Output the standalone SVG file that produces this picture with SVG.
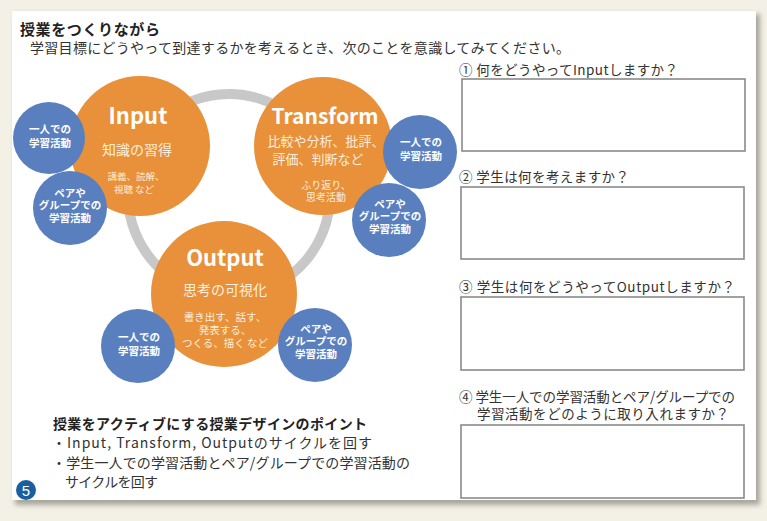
<svg xmlns="http://www.w3.org/2000/svg" width="767" height="521" viewBox="0 0 767 521">
<defs>
<filter id="sh" x="-5%" y="-5%" width="110%" height="110%"><feGaussianBlur stdDeviation="2.5"/></filter>
</defs>
<style>
.jp{font-family:"Noto Sans CJK JP","Noto Sans",sans-serif}
.t{fill:#333}
.b{font-weight:bold}
.orange{fill:#e8913a}
.blue{fill:#5a7fbf}
.w{fill:#ffffff}
.wt{fill:#fbeede}
.s{font-size:10.5px;font-weight:bold;fill:#ffffff;text-anchor:middle}
.box{fill:#ffffff;stroke:#8a8a8a;stroke-width:1.6}
.mid{text-anchor:middle}
</style>
<rect x="0" y="0" width="767" height="521" fill="#f3f0e6"/>
<rect x="15" y="14" width="745" height="491" fill="#a9a69c" filter="url(#sh)"/>
<rect x="12" y="11" width="744" height="489" fill="#ffffff"/>

<g id="header" class="jp">
<text x="20" y="35" font-size="15" class="b" fill="#222" textLength="140">授業をつくりながら</text>
<text x="30" y="53" font-size="14" class="t" textLength="540">学習目標にどうやって到達するかを考えるとき、次のことを意識してみてください。</text>
</g>

<g id="connectors">
<circle cx="229" cy="195" r="101" fill="none" stroke="#c8c8c8" stroke-width="10"/>
</g>

<g id="input" class="jp">
<circle cx="140" cy="146" r="70" class="orange"/>
<text x="138" y="124" font-size="22" class="b w mid">Input</text>
<text x="137" y="155" font-size="14" class="wt mid">知識の習得</text>
<text x="136" y="180" font-size="9.5" class="wt mid">講義、読解、</text>
<text x="134" y="193" font-size="9.5" class="wt mid">視聴 など</text>
</g>
<g id="input-solo" class="jp">
<circle cx="49" cy="138" r="36" class="blue"/>
<text x="50" y="133" class="s">一人での</text>
<text x="50" y="147" class="s">学習活動</text>
</g>
<g id="input-pair" class="jp">
<circle cx="70" cy="208" r="37" class="blue"/>
<text x="70" y="196.5" class="s">ペアや</text>
<text x="70" y="209" class="s">グループでの</text>
<text x="70" y="221.5" class="s">学習活動</text>
</g>

<g id="transform" class="jp">
<circle cx="323" cy="146" r="69" class="orange"/>
<text x="325" y="124" font-size="21" class="b w mid">Transform</text>
<text x="326" y="146" font-size="13" class="wt mid">比較や分析、批評、</text>
<text x="318" y="164" font-size="13" class="wt mid">評価、判断など</text>
<text x="326" y="189" font-size="10" class="wt mid">ふり返り、</text>
<text x="326" y="201" font-size="10" class="wt mid">思考活動</text>
</g>
<g id="transform-solo" class="jp">
<circle cx="420" cy="152" r="37" class="blue"/>
<text x="421" y="146" class="s">一人での</text>
<text x="421" y="160" class="s">学習活動</text>
</g>
<g id="transform-pair" class="jp">
<circle cx="389" cy="220" r="37" class="blue"/>
<text x="390" y="207.5" class="s">ペアや</text>
<text x="390" y="220" class="s">グループでの</text>
<text x="390" y="232.5" class="s">学習活動</text>
</g>

<g id="output" class="jp">
<circle cx="224" cy="294" r="73" class="orange"/>
<text x="225" y="266" font-size="22" class="b w mid">Output</text>
<text x="225" y="295" font-size="14" class="wt mid">思考の可視化</text>
<text x="225" y="321" font-size="10.5" class="wt mid">書き出す、話す、</text>
<text x="225" y="334" font-size="10.5" class="wt mid">発表する、</text>
<text x="225" y="347" font-size="10.5" class="wt mid">つくる、描く など</text>
</g>
<g id="output-solo" class="jp">
<circle cx="138" cy="346" r="37" class="blue"/>
<text x="139" y="341" class="s">一人での</text>
<text x="139" y="355" class="s">学習活動</text>
</g>
<g id="output-pair" class="jp">
<circle cx="315" cy="345" r="37" class="blue"/>
<text x="316" y="332.5" class="s">ペアや</text>
<text x="316" y="345" class="s">グループでの</text>
<text x="316" y="357.5" class="s">学習活動</text>
</g>

<g id="points" class="jp">
<text x="53" y="429" font-size="14" class="b" fill="#222" textLength="314">授業をアクティブにする授業デザインのポイント</text>
<text x="52" y="448" font-size="14" class="t" textLength="320">・Input, Transform, Outputのサイクルを回す</text>
<text x="52" y="468" font-size="14" class="t" textLength="358">・学生一人での学習活動とペア/グループでの学習活動の</text>
<text x="65" y="487" font-size="14" class="t" textLength="93">サイクルを回す</text>
</g>

<g id="badge">
<circle cx="26" cy="490" r="10" fill="#1c5f9e"/>
<text x="26" y="495.5" font-size="15" fill="#ffffff" text-anchor="middle" font-family="Liberation Sans,Arial,sans-serif">5</text>
</g>

<g id="q1" class="jp">
<text x="459" y="75" font-size="13.5" class="t" textLength="219">① 何をどうやってInputしますか？</text>
<rect x="462" y="79" width="283" height="72" class="box"/>
</g>
<g id="q2" class="jp">
<text x="459" y="182" font-size="13.5" class="t" textLength="170">② 学生は何を考えますか？</text>
<rect x="461" y="187" width="283" height="72" class="box"/>
</g>
<g id="q3" class="jp">
<text x="459" y="292" font-size="13.5" class="t" textLength="276">③ 学生は何をどうやってOutputしますか？</text>
<rect x="461" y="297" width="283" height="73" class="box"/>
</g>
<g id="q4" class="jp">
<text x="459" y="402" font-size="13.5" class="t" textLength="276">④ 学生一人での学習活動とペア/グループでの</text>
<text x="477" y="419" font-size="13.5" class="t" textLength="252">学習活動をどのように取り入れますか？</text>
<rect x="461" y="425" width="283" height="73" class="box"/>
</g>
</svg>
